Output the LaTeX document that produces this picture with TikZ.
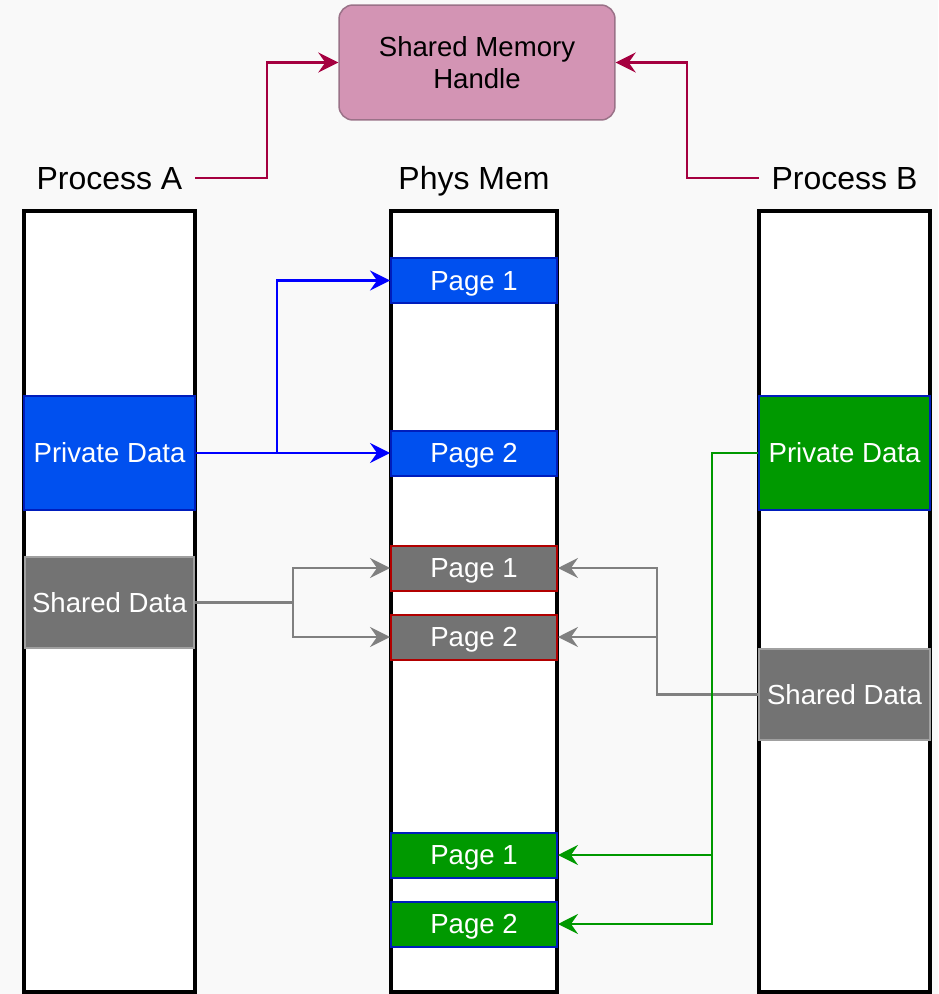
\documentclass[tikz,border=0pt]{standalone}
\usepackage{fontspec}
\setmainfont{Liberation Sans}
\usetikzlibrary{arrows.meta}
\definecolor{bgc}{HTML}{F9F9F9}
\definecolor{bluefill}{HTML}{0050EF}
\definecolor{blueline}{HTML}{001DBC}
\definecolor{greenfill}{HTML}{009900}
\definecolor{grayfill}{HTML}{737373}
\definecolor{grayline}{HTML}{A0A0A0}
\definecolor{redline}{HTML}{B20000}
\definecolor{handlefill}{HTML}{D394B4}
\definecolor{handleline}{HTML}{9A7288}
\definecolor{magline}{HTML}{A50040}
\definecolor{grayarrow}{HTML}{808080}
\newcommand\lblfont{\fontsize{18.2}{22}\selectfont}
\newcommand\blkfont{\fontsize{15.7}{18.2}\selectfont}
\tikzset{
  memcol/.style={draw=black, line width=0.08cm, fill=white, inner sep=0pt,
    minimum height=15.62cm},
  lbl/.style={font=\lblfont, minimum width=3.42cm, inner sep=0pt,
    text height=13.65pt, text depth=0pt},
  blk/.style={line width=0.04cm, text=white, font=\blkfont, inner sep=0pt,
    text height=11.2pt, text depth=0pt},
  bluepage/.style={blk, fill=bluefill, draw=blueline, minimum width=3.32cm, minimum height=0.9cm},
  graypage/.style={blk, fill=grayfill, draw=redline, minimum width=3.32cm, minimum height=0.9cm},
  greenpage/.style={blk, fill=greenfill, draw=blueline, minimum width=3.32cm, minimum height=0.9cm},
  tip/.style={-{Stealth[length=0.4cm, width=0.4cm, inset=0.14cm]}, line width=0.045cm},
  magarr/.style={tip, draw=magline},
  bluearr/.style={tip, draw=blue},
  grayarr/.style={tip, draw=grayarrow},
  greenarr/.style={tip, draw=greenfill},
}
\begin{document}
\begin{tikzpicture}[x=0.02cm, y=-0.02cm]
  % canvas
  \fill[bgc] (0,0) rectangle (938,994);
  \useasboundingbox (0,0) rectangle (938,994);

  % handle box
  \node[draw=handleline, fill=handlefill, line width=0.03cm, rounded corners=0.28cm,
        minimum width=5.52cm, minimum height=2.3cm, font=\blkfont, align=center,
        inner sep=0pt] (handle) at (477,62.5) {Shared Memory\\Handle};

  % column titles
  \node[lbl] (labA) at (109.5,178) {Process A};
  \node[lbl] (labM) at (474,178) {Phys Mem};
  \node[lbl] (labB) at (844.5,178) {Process B};

  % memory columns
  \node[memcol, minimum width=3.42cm] (colA) at (109.5,601.5) {};
  \node[memcol, minimum width=3.32cm] (colM) at (474,601.5) {};
  \node[memcol, minimum width=3.42cm] (colB) at (844.5,601.5) {};

  % process A regions
  \node[blk, fill=bluefill, draw=blueline, minimum width=3.42cm, minimum height=2.28cm]
    (privA) at (109.5,453) {Private Data};
  \node[blk, fill=grayfill, draw=grayline, minimum width=3.38cm, minimum height=1.82cm]
    (sharedA) at (109.5,602.5) {Shared Data};

  % process B regions
  \node[blk, fill=greenfill, draw=blueline, minimum width=3.42cm, minimum height=2.28cm]
    (privB) at (844.5,453) {Private Data};
  \node[blk, fill=grayfill, draw=grayline, minimum width=3.42cm, minimum height=1.82cm]
    (sharedB) at (844.5,694.5) {Shared Data};

  % physical pages
  \node[bluepage]  (pageB1) at (474,280.5) {Page 1};
  \node[bluepage]  (pageB2) at (474,453)   {Page 2};
  \node[graypage]  (pageG1) at (474,568)   {Page 1};
  \node[graypage]  (pageG2) at (474,637)   {Page 2};
  \node[greenpage] (pageN1) at (474,855)   {Page 1};
  \node[greenpage] (pageN2) at (474,924)   {Page 2};

  % handle links
  \draw[magarr] (labA.east) -- ++(72,0) |- (handle.west);
  \draw[magarr] (labB.west) -- ++(-72,0) |- (handle.east);

  % private mappings of process A
  \draw[bluearr] (privA.east) -- ++(81,0) |- (pageB1.west);
  \draw[bluearr] (privA.east) -- (pageB2.west);

  % shared mappings
  \draw[grayarr] (sharedA.east) -- ++(98,0) |- (pageG1.west);
  \draw[grayarr] (sharedA.east) -- ++(98,0) |- (pageG2.west);
  \draw[grayarr] (sharedB.west) -- ++(-101,0) |- (pageG1.east);
  \draw[grayarr] (sharedB.west) -- ++(-101,0) |- (pageG2.east);

  % private mappings of process B
  \draw[greenarr] (privB.west) -- ++(-46,0) |- (pageN1.east);
  \draw[greenarr] (privB.west) -- ++(-46,0) |- (pageN2.east);
\end{tikzpicture}
\end{document}
